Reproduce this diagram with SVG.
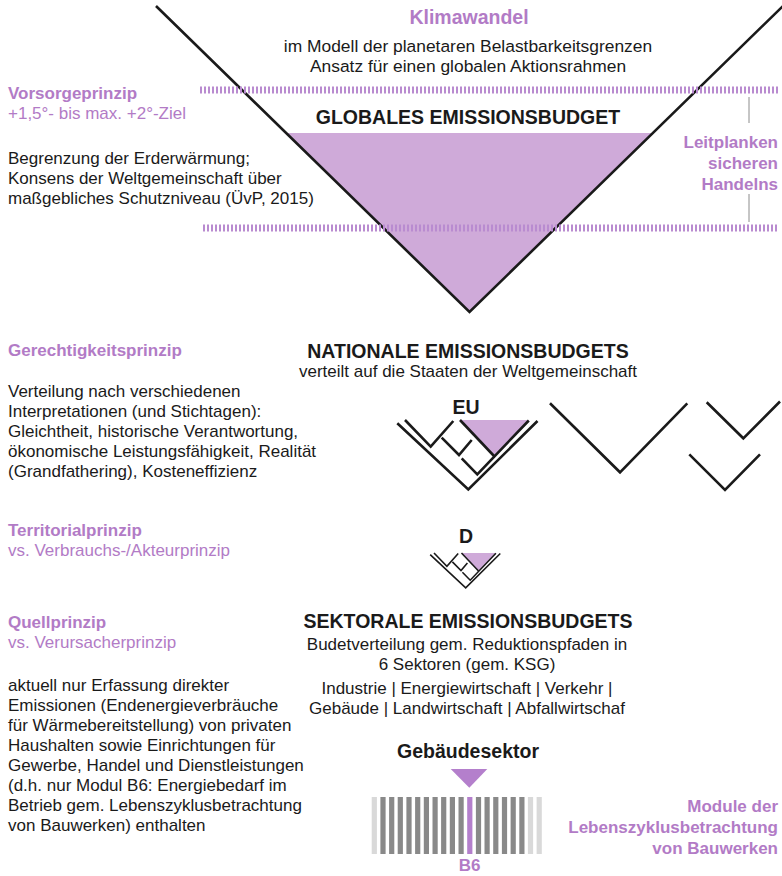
<svg xmlns="http://www.w3.org/2000/svg" width="782" height="876" viewBox="0 0 782 876">
<style>
text{font-family:"Liberation Sans",Arial,sans-serif;fill:#1a1a1a}
.b{font-size:17px}
.h{font-size:19.5px;font-weight:bold}
.p{fill:#b27bc6}
.pb{fill:#b27bc6;font-weight:bold;font-size:17px}
.c{text-anchor:middle}
.r{text-anchor:end}
.ln{fill:none;stroke:#1a1a1a;stroke-width:2.6;stroke-linejoin:miter}
.ln2{fill:none;stroke:#1a1a1a;stroke-width:1.6;stroke-linejoin:miter}
.dash{stroke:#b98bd0;stroke-width:7;stroke-dasharray:2 2}
.guide{stroke:#8c8c8c;stroke-width:1}
.bl{fill:#d9d9d9}
.bd{fill:#898989}
.bp{fill:#b47fcc}
</style>
<rect width="782" height="876" fill="#fff"/>

<g id="global-budget">
<polygon points="285,133 654,133 469.5,312" fill="#cfaad9"/>
<polyline class="ln" points="156,6 469.5,312 783,6"/>
</g>

<g id="connectors">
<line class="dash" x1="200" y1="90" x2="778" y2="90"/>
<line class="dash" x1="203" y1="228" x2="778" y2="228"/>
<line class="guide" x1="749" y1="97" x2="749" y2="123"/>
<line class="guide" x1="749" y1="194" x2="749" y2="222"/>
</g>

<g id="klimawandel">
<text class="h c p" x="469" y="24">Klimawandel</text>
<text class="b c" x="468" y="52" style="font-size:17.4px">im Modell der planetaren Belastbarkeitsgrenzen</text>
<text class="b c" x="468" y="72" style="font-size:17.4px">Ansatz für einen globalen Aktionsrahmen</text>
</g>
<text id="global-title" class="h c" x="468" y="124">GLOBALES EMISSIONSBUDGET</text>

<g id="vorsorge">
<text class="pb" x="8" y="99">Vorsorgeprinzip</text>
<text class="b p" x="8" y="119">+1,5°- bis max. +2°-Ziel</text>
<text class="b" x="8" y="164">Begrenzung der Erderwärmung;</text>
<text class="b" x="8" y="184">Konsens der Weltgemeinschaft über</text>
<text class="b" x="8" y="204">maßgebliches Schutzniveau (ÜvP, 2015)</text>
</g>

<g id="leitplanken">
<text class="pb r" x="778" y="148">Leitplanken</text>
<text class="pb r" x="778" y="169">sicheren</text>
<text class="pb r" x="778" y="190">Handelns</text>
</g>

<g id="gerechtigkeit">
<text class="pb" x="8" y="356">Gerechtigkeitsprinzip</text>
<text class="b" x="8" y="397">Verteilung nach verschiedenen</text>
<text class="b" x="8" y="417">Interpretationen (und Stichtagen):</text>
<text class="b" x="8" y="437">Gleichtheit, historische Verantwortung,</text>
<text class="b" x="8" y="457">ökonomische Leistungsfähigkeit, Realität</text>
<text class="b" x="8" y="477">(Grandfathering), Kosteneffizienz</text>
</g>

<g id="national">
<text class="h c" x="468" y="358">NATIONALE EMISSIONSBUDGETS</text>
<text class="b c" x="468" y="377">verteilt auf die Staaten der Weltgemeinschaft</text>
</g>

<g id="eu">
<text class="h c" x="466" y="414">EU</text>
<polygon points="460,420 528.3,420 494,455.7" fill="#cfaad9"/>
<polyline class="ln" points="397.3,423.3 468.3,489.5 537.5,421"/>
<polyline class="ln" points="405,420 430.7,446.7 453.3,421"/>
<polyline class="ln" points="441.7,437.7 459,455 471.7,440"/>
<polyline class="ln" points="461.7,458.3 477.3,474.3 528.8,420.5"/>
<line class="ln" x1="460" y1="420" x2="494" y2="456"/>
</g>

<g id="staaten">
<polyline class="ln" points="550,403.3 620,472.3 687.3,403.3"/>
<polyline class="ln" points="706.7,402.3 743.3,438.3 780,401.5"/>
<polyline class="ln" points="689.3,454.3 725,490 760,454.3"/>
</g>

<g id="territorial">
<text class="pb" x="8" y="536">Territorialprinzip</text>
<text class="b p" x="8" y="556">vs. Verbrauchs-/Akteurprinzip</text>
</g>

<g id="d">
<text class="h c" x="466" y="543">D</text>
<polygon points="461.5,553 495.7,553 478.5,570.9" fill="#cfaad9"/>
<polyline class="ln2" points="430.2,554.7 465.7,587.8 500.3,553.5"/>
<polyline class="ln2" points="434,553 446.9,566.4 458.2,553.5"/>
<polyline class="ln2" points="452.4,561.9 461,570.5 467.4,563"/>
<polyline class="ln2" points="462.4,572.2 470.2,580.2 495.9,553.2"/>
<line class="ln2" x1="461.5" y1="553" x2="478.5" y2="571"/>
</g>

<g id="quell">
<text class="pb" x="8" y="628">Quellprinzip</text>
<text class="b p" x="8" y="648">vs. Verursacherprinzip</text>
<text class="b" x="8" y="691">aktuell nur Erfassung direkter</text>
<text class="b" x="8" y="711">Emissionen (Endenergieverbräuche</text>
<text class="b" x="8" y="731">für Wärmebereitstellung) von privaten</text>
<text class="b" x="8" y="751">Haushalten sowie Einrichtungen für</text>
<text class="b" x="8" y="771">Gewerbe, Handel und Dienstleistungen</text>
<text class="b" x="8" y="791">(d.h. nur Modul B6: Energiebedarf im</text>
<text class="b" x="8" y="811">Betrieb gem. Lebenszyklusbetrachtung</text>
<text class="b" x="8" y="831">von Bauwerken) enthalten</text>
</g>

<g id="sektoral">
<text class="h c" x="468" y="628">SEKTORALE EMISSIONSBUDGETS</text>
<text class="b c" x="467" y="650">Budetverteilung gem. Reduktionspfaden in</text>
<text class="b c" x="467" y="670">6 Sektoren (gem. KSG)</text>
<text class="b c" x="467" y="694">Industrie | Energiewirtschaft | Verkehr |</text>
<text class="b c" x="467" y="714">Gebäude | Landwirtschaft | Abfallwirtschaf</text>
</g>

<g id="gebaeude">
<text class="h c" x="468" y="758">Gebäudesektor</text>
<polygon points="450.7,769 487.3,769 469.3,787.7" fill="#b47fcc"/>
</g>

<g id="module">
<rect class="bl" x="371.7" y="797" width="5.2" height="57"/>
<rect class="bd" x="380.4" y="797" width="5.2" height="57"/>
<rect class="bd" x="389.1" y="797" width="5.2" height="57"/>
<rect class="bd" x="397.7" y="797" width="5.2" height="57"/>
<rect class="bd" x="406.4" y="797" width="5.2" height="57"/>
<rect class="bd" x="415.1" y="797" width="5.2" height="57"/>
<rect class="bd" x="423.8" y="797" width="5.2" height="57"/>
<rect class="bd" x="432.5" y="797" width="5.2" height="57"/>
<rect class="bd" x="441.1" y="797" width="5.2" height="57"/>
<rect class="bd" x="449.8" y="797" width="5.2" height="57"/>
<rect class="bd" x="458.5" y="797" width="5.2" height="57"/>
<rect class="bp" x="467.2" y="797" width="5.2" height="57"/>
<rect class="bd" x="475.9" y="797" width="5.2" height="57"/>
<rect class="bd" x="484.5" y="797" width="5.2" height="57"/>
<rect class="bd" x="493.2" y="797" width="5.2" height="57"/>
<rect class="bd" x="501.9" y="797" width="5.2" height="57"/>
<rect class="bd" x="510.6" y="797" width="5.2" height="57"/>
<rect class="bd" x="519.3" y="797" width="5.2" height="57"/>
<rect class="bl" x="527.9" y="797" width="5.2" height="57"/>
<rect class="bl" x="536.6" y="797" width="5.2" height="57"/>
<text class="pb c" x="469.5" y="871">B6</text>
</g>

<g id="lebenszyklus">
<text class="pb r" x="778" y="812">Module der</text>
<text class="pb r" x="778" y="833">Lebenszyklusbetrachtung</text>
<text class="pb r" x="778" y="854">von Bauwerken</text>
</g>
</svg>
